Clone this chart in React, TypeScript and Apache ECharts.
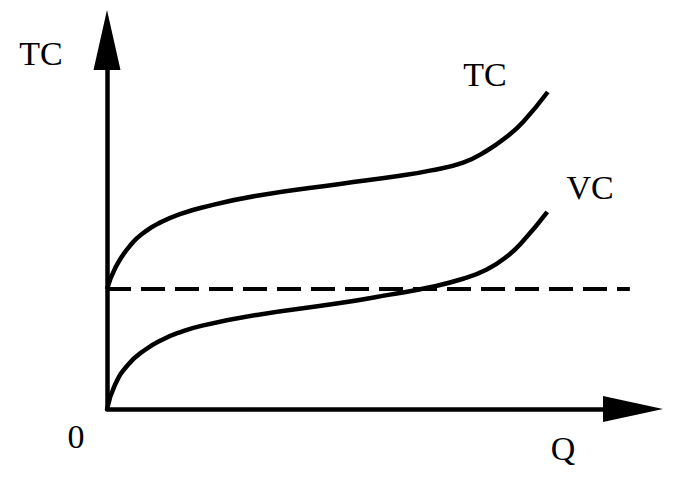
import React, { useEffect, useRef } from "react";
import * as echarts from "echarts";

// Quantity (Q) values sampled along the curves
const tcQ = [0, 1.5, 4.0, 7.2, 10.5, 13.5, 18.1, 28.5, 44.3, 55.7, 61.4, 67.7, 72.2, 76.0, 79.1, 83.8];
// Total cost values
const tcValues = [32.5, 38.0, 43.6, 48.0, 50.8, 52.6, 54.6, 57.8, 61.0, 63.2, 64.6, 66.8, 70.0, 73.8, 77.8, 85.9];

const vcQ = [0, 1.5, 4.0, 7.2, 10.5, 13.5, 18.1, 28.5, 44.3, 53.8, 61.4, 67.7, 72.2, 76.0, 79.1, 83.7];
// Variable cost values
const vcValues = [0, 6.5, 12.0, 16.0, 18.8, 20.6, 22.6, 25.5, 28.7, 31.0, 33.0, 35.3, 37.8, 41.3, 45.5, 53.4];

// Fixed cost (dashed horizontal line)
const fcQ = [0, 99.4];
const fcValues = [32.5, 32.5];

const labels = {
  yName: "TC",
  xName: "Q",
  origin: "0",
  tc: "TC",
  vc: "VC",
};

const zip = (xs: number[], ys: number[]) => xs.map((x, i) => [x, ys[i]]);

export default function App() {
  const ref = useRef<HTMLDivElement>(null);
  useEffect(() => {
    if (!ref.current) return;
    const chart = echarts.init(ref.current, undefined, { renderer: "svg" });
    const font = "'Liberation Serif', 'DejaVu Serif', serif";
    const textStyle = (t: string) => ({
      text: t,
      fill: "#000",
      font: `34px ${font}`,
      align: "center",
      verticalAlign: "middle",
    });
    const axisCommon = {
      type: "value" as const,
      min: 0,
      max: 100,
      axisTick: { show: false },
      axisLabel: { show: false },
      splitLine: { show: false },
    };
    chart.setOption({
      animation: false,
      backgroundColor: "#fff",
      grid: { left: 107, right: 61, top: 40, bottom: 76 },
      xAxis: {
        ...axisCommon,
        axisLine: {
          show: true,
          lineStyle: { color: "#000", width: 4.5 },
          symbol: ["none", "triangle"],
          symbolSize: [26, 60],
        },
      },
      yAxis: {
        ...axisCommon,
        axisLine: {
          show: true,
          lineStyle: { color: "#000", width: 4.5 },
          symbol: ["none", "triangle"],
          symbolSize: [27, 60],
        },
      },
      series: [
        {
          name: "TC",
          type: "line",
          data: zip(tcQ, tcValues),
          smooth: 0.5,
          showSymbol: false,
          lineStyle: { color: "#000", width: 4.5 },
        },
        {
          name: "VC",
          type: "line",
          data: zip(vcQ, vcValues),
          smooth: 0.5,
          showSymbol: false,
          lineStyle: { color: "#000", width: 4.5 },
        },
        {
          name: "FC",
          type: "line",
          data: zip(fcQ, fcValues),
          showSymbol: false,
          lineStyle: { color: "#000", width: 4, type: [24, 10] },
        },
      ],
      graphic: [
        { type: "text", x: 41, y: 53, style: textStyle(labels.yName) },
        { type: "text", x: 76, y: 436, style: textStyle(labels.origin) },
        { type: "text", x: 563, y: 448, style: textStyle(labels.xName) },
        { type: "text", x: 485, y: 74, style: textStyle(labels.tc) },
        { type: "text", x: 590, y: 187, style: textStyle(labels.vc) },
      ],
    });
    return () => chart.dispose();
  }, []);
  return <div ref={ref} style={{ width: 694, height: 485, position: "fixed", left: 0, top: 0 }} />;
}
